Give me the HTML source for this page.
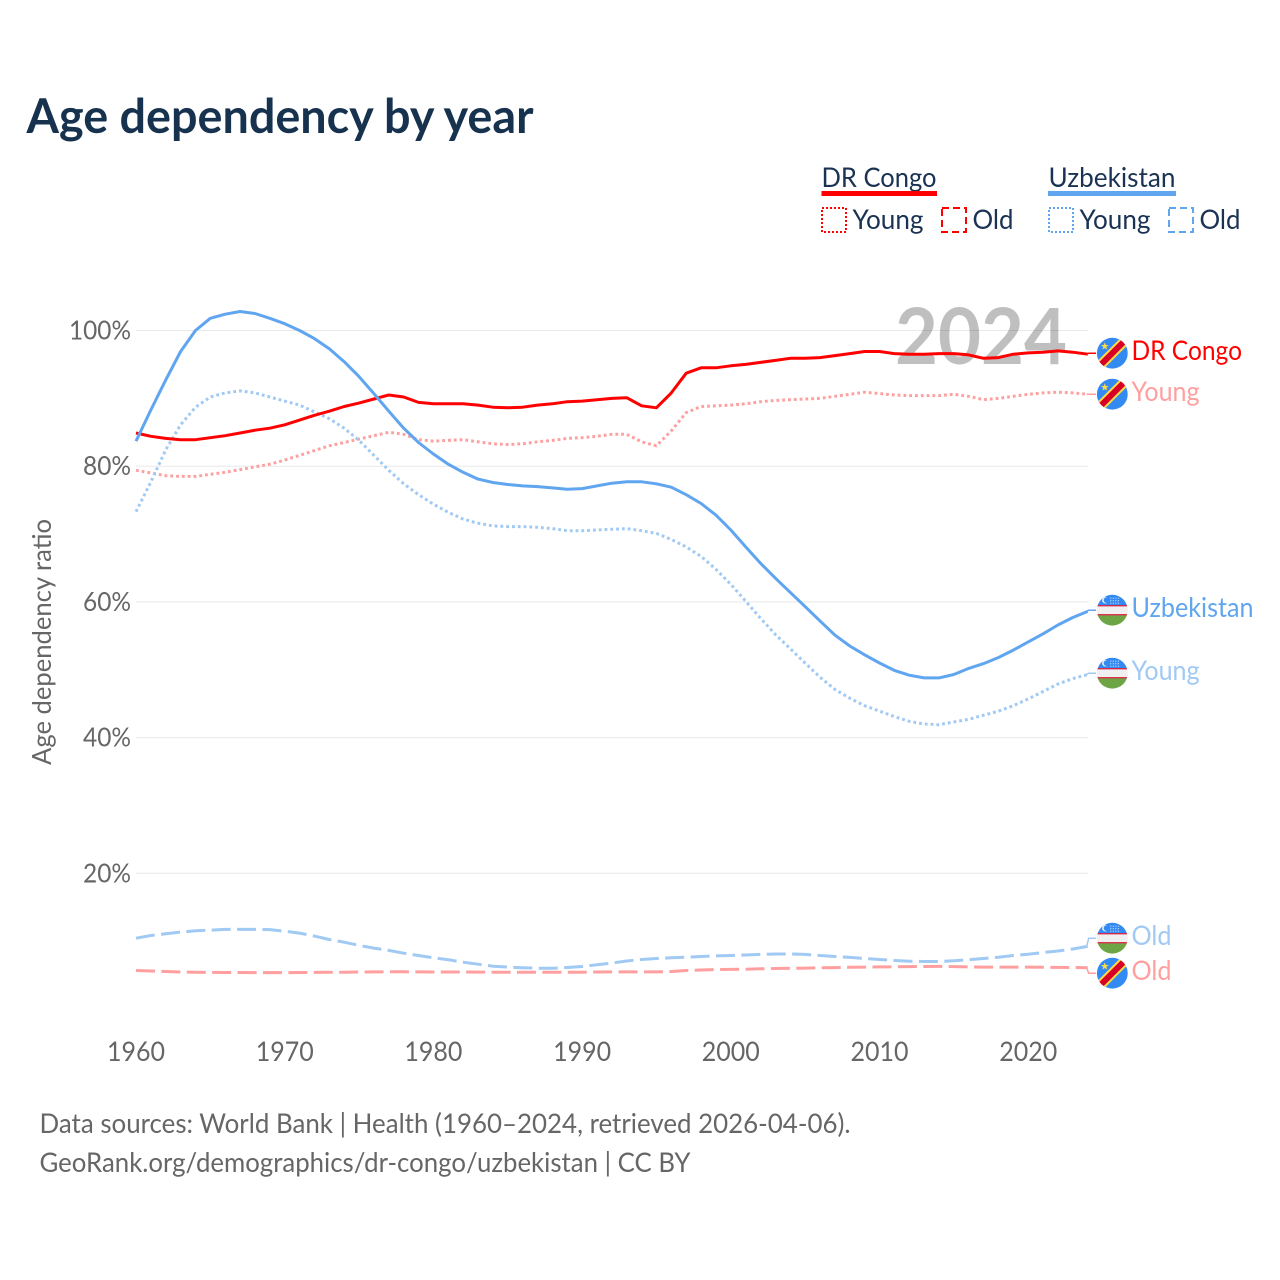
<!DOCTYPE html>
<html lang="en">
<head>
<meta charset="utf-8">
<title>Age dependency by year</title>
<style>
html,body{margin:0;padding:0;background:#fff;width:1280px;height:1280px;overflow:hidden}
svg{display:block}
text{font-family:"Lato","Carlito","Liberation Sans",sans-serif}
</style>
</head>
<body>
<svg id="chart" xmlns="http://www.w3.org/2000/svg" width="1280" height="1280" viewBox="0 0 1280 1280">
  <rect x="0" y="0" width="1280" height="1280" fill="#ffffff"/>
  <text x="26.5" y="133" font-size="48" font-weight="700" fill="#17324f" textLength="507" lengthAdjust="spacingAndGlyphs">Age dependency by year</text>

  <g>
    <g>
      <text x="821.5" y="187" font-size="27.5" fill="#1a3353" textLength="115" lengthAdjust="spacingAndGlyphs">DR Congo</text>
      <rect x="821.5" y="191" width="115.5" height="5" fill="#ff0000"/>
      <rect x="822" y="208" width="24" height="24" fill="none" stroke="#ff0000" stroke-width="2" stroke-dasharray="2 2"/>
      <text x="852.5" y="229" font-size="27.5" fill="#1a3353" textLength="71" lengthAdjust="spacingAndGlyphs">Young</text>
      <rect x="942" y="208" width="24" height="24" fill="none" stroke="#ff0000" stroke-width="2" stroke-dasharray="7 4"/>
      <text x="972.5" y="229" font-size="27.5" fill="#1a3353" textLength="41" lengthAdjust="spacingAndGlyphs">Old</text>
    </g>
    <g>
      <text x="1048.5" y="187" font-size="27.5" fill="#1a3353" textLength="127" lengthAdjust="spacingAndGlyphs">Uzbekistan</text>
      <rect x="1048" y="191" width="128" height="5" fill="#60a5f0"/>
      <rect x="1049" y="208" width="24" height="24" fill="none" stroke="#60a5f0" stroke-width="2" stroke-dasharray="2 2"/>
      <text x="1079.5" y="229" font-size="27.5" fill="#1a3353" textLength="71" lengthAdjust="spacingAndGlyphs">Young</text>
      <rect x="1169" y="208" width="24" height="24" fill="none" stroke="#60a5f0" stroke-width="2" stroke-dasharray="7 4"/>
      <text x="1199.5" y="229" font-size="27.5" fill="#1a3353" textLength="41" lengthAdjust="spacingAndGlyphs">Old</text>
    </g>
  </g>

  <text transform="translate(51,642) rotate(-90)" text-anchor="middle" font-size="26.5" fill="#666666" textLength="246" lengthAdjust="spacingAndGlyphs">Age dependency ratio</text>
  <g id="grid"></g>
  <g id="yticks"></g>
  <g id="xticks"></g>
  <text x="895" y="364" font-size="78" font-weight="700" fill="#000000" fill-opacity="0.25" textLength="172" lengthAdjust="spacingAndGlyphs">2024</text>
  <g id="series"></g>
  <g id="ends"></g>

  <text x="39.5" y="1133" font-size="27.5" fill="#666666" textLength="811" lengthAdjust="spacingAndGlyphs">Data sources: World Bank | Health (1960–2024, retrieved 2026-04-06).</text>
  <text x="39.5" y="1172" font-size="27.5" fill="#666666" textLength="651" lengthAdjust="spacingAndGlyphs">GeoRank.org/demographics/dr-congo/uzbekistan | CC BY</text>
</svg>
<script>
var startYear = 1960;
var yTickValues = [20, 40, 60, 80, 100];
var xTickValues = [1960, 1970, 1980, 1990, 2000, 2010, 2020];

var drCongoTotal = [
  84.9,84.4,84.1,83.9,83.9,84.2,84.5,84.9,85.3,85.6,
  86.1,86.8,87.5,88.1,88.8,89.3,89.9,90.5,90.2,89.4,
  89.2,89.2,89.2,89.0,88.7,88.6,88.7,89.0,89.2,89.5,
  89.6,89.8,90.0,90.1,88.9,88.6,90.8,93.7,94.5,94.5,
  94.8,95.0,95.3,95.6,95.9,95.9,96.0,96.3,96.6,96.9,
  96.9,96.6,96.5,96.5,96.6,96.6,96.4,95.9,96.0,96.5,
  96.7,96.8,97.0,96.8,96.5
];
var drCongoYoung = [
  79.4,79.0,78.6,78.5,78.5,78.8,79.1,79.5,79.9,80.3,
  80.9,81.6,82.3,83.0,83.5,84.0,84.5,85.0,84.7,83.9,
  83.7,83.8,83.9,83.6,83.3,83.2,83.3,83.6,83.8,84.1,
  84.2,84.4,84.7,84.7,83.6,83.0,85.2,87.9,88.8,88.9,
  89.0,89.2,89.5,89.7,89.8,89.9,90.0,90.3,90.6,90.9,
  90.7,90.5,90.4,90.4,90.4,90.6,90.3,89.8,90.0,90.3,
  90.6,90.8,90.9,90.8,90.6
];
var drCongoOld = [
  5.68,5.6,5.53,5.46,5.43,5.4,5.38,5.38,5.37,5.37,
  5.37,5.38,5.39,5.41,5.43,5.45,5.47,5.48,5.48,5.47,
  5.46,5.46,5.45,5.44,5.43,5.41,5.41,5.41,5.41,5.42,
  5.43,5.45,5.47,5.47,5.47,5.47,5.53,5.68,5.75,5.8,
  5.83,5.87,5.92,5.97,6.0,6.03,6.07,6.1,6.14,6.17,
  6.2,6.22,6.25,6.27,6.28,6.25,6.2,6.18,6.17,6.17,
  6.17,6.15,6.13,6.12,6.08
];
var uzbekistanTotal = [
  83.7,88.3,92.7,96.9,100.0,101.8,102.4,102.8,102.5,101.8,
  101.0,100.0,98.8,97.3,95.4,93.2,90.7,88.1,85.6,83.5,
  81.8,80.3,79.1,78.1,77.6,77.3,77.1,77.0,76.8,76.6,
  76.7,77.1,77.5,77.7,77.7,77.4,76.9,75.8,74.5,72.8,
  70.6,68.1,65.7,63.5,61.4,59.3,57.2,55.1,53.5,52.2,
  51.0,49.9,49.2,48.8,48.8,49.3,50.2,50.9,51.8,52.9,
  54.1,55.3,56.6,57.7,58.6
];
var uzbekistanYoung = [
  73.3,77.7,82.4,86.1,88.7,90.2,90.8,91.1,90.8,90.2,
  89.6,89.0,88.0,87.0,85.6,83.8,81.6,79.4,77.4,75.8,
  74.4,73.2,72.2,71.6,71.2,71.1,71.1,71.0,70.8,70.5,
  70.5,70.6,70.7,70.8,70.5,70.1,69.2,68.1,66.7,64.8,
  62.6,60.1,57.6,55.2,53.1,51.0,48.9,47.1,45.8,44.7,
  43.9,43.1,42.4,42.0,41.9,42.3,42.7,43.3,43.9,44.7,
  45.7,46.8,47.9,48.7,49.3
];
var uzbekistanOld = [
  10.44,10.84,11.09,11.33,11.53,11.62,11.73,11.73,11.73,11.7,
  11.47,11.18,10.74,10.25,9.85,9.37,8.97,8.63,8.23,7.89,
  7.55,7.26,6.9,6.61,6.31,6.17,6.08,6.02,6.02,6.12,
  6.27,6.52,6.76,7.08,7.3,7.45,7.55,7.64,7.74,7.82,
  7.89,7.96,8.04,8.11,8.11,8.04,7.89,7.74,7.6,7.45,
  7.3,7.15,7.05,7.0,7.0,7.11,7.26,7.45,7.64,7.89,
  8.08,8.33,8.55,8.85,9.22
];

var NS = 'http://www.w3.org/2000/svg';
function xScale(year) { return 136 + (year - 1960) * 14.87; }
function yScale(v) { return 330.5 + (100 - v) * 6.785; }
function mk(tag, attrs, parent) {
  var el = document.createElementNS(NS, tag);
  for (var k in attrs) el.setAttribute(k, attrs[k]);
  parent.appendChild(el);
  return el;
}

var grid = document.getElementById('grid');
var yticks = document.getElementById('yticks');
var xticks = document.getElementById('xticks');
var seriesG = document.getElementById('series');
var endsG = document.getElementById('ends');

yTickValues.forEach(function (v) {
  var line = mk('line', {x1: 136, x2: 1088, y1: yScale(v), y2: yScale(v), stroke: '#e8e8e8', 'stroke-width': 1}, grid);
  
  
  var t = mk('text', {x: 131, y: yScale(v) + 9, 'text-anchor': 'end', 'font-size': 26.5, fill: '#666666',
    textLength: v === 100 ? 62 : 48, lengthAdjust: 'spacingAndGlyphs'}, yticks);
  t.textContent = v + '%';
  
  
});

xTickValues.forEach(function (yr) {
  var t = mk('text', {x: xScale(yr), y: 1061, 'text-anchor': 'middle', 'font-size': 27, fill: '#666666',
    textLength: 58, lengthAdjust: 'spacingAndGlyphs'}, xticks);
  t.textContent = yr;
  
  
});

var RED = '#ff0000', BLUE = '#60a5f0', LRED = '#ff9f9f', LBLUE = '#a0c9f4';
var DOT = '2.8 3', DASH = '19 6.4';

function drawLine(values, color, dash, width, name) {
  var pts = values.map(function (v, i) {
    return xScale(startYear + i).toFixed(1) + ',' + yScale(v).toFixed(1);
  }).join(' ');
  var p = mk('polyline', {points: pts, fill: 'none', stroke: color, 'stroke-width': width, 'stroke-linejoin': 'round'}, seriesG);
  if (dash) p.setAttribute('stroke-dasharray', dash);
  
  
}

drawLine(drCongoOld, LRED, DASH, 3, 'line-dr-congo-old');
drawLine(uzbekistanOld, LBLUE, DASH, 3, 'line-uzbekistan-old');
drawLine(drCongoYoung, LRED, DOT, 3, 'line-dr-congo-young');
drawLine(uzbekistanYoung, LBLUE, DOT, 3, 'line-uzbekistan-young');
drawLine(drCongoTotal, RED, null, 3, 'line-dr-congo-total');
drawLine(uzbekistanTotal, BLUE, null, 3, 'line-uzbekistan-total');

var defs = mk('defs', {}, document.getElementById('chart'));
var cp = mk('clipPath', {id: 'flag-clip'}, defs);
mk('circle', {cx: 0, cy: 0, r: 15.4}, cp);

function drawCongo(g) {
  mk('rect', {x: -16, y: -16, width: 32, height: 32, fill: '#338af3'}, g);
  mk('line', {x1: -18, y1: 18, x2: 18, y2: -18, stroke: '#ffda44', 'stroke-width': 10}, g);
  mk('line', {x1: -18, y1: 18, x2: 18, y2: -18, stroke: '#d80027', 'stroke-width': 6}, g);
  mk('polygon', {points: '-7.5,-11 -6.5,-8.2 -3.6,-8.2 -5.9,-6.4 -5.1,-3.6 -7.5,-5.2 -9.9,-3.6 -9.1,-6.4 -11.4,-8.2 -8.5,-8.2', fill: '#ffda44'}, g);
}
function drawUzbek(g) {
  mk('rect', {x: -16, y: -16, width: 32, height: 11, fill: '#338af3'}, g);
  mk('rect', {x: -16, y: -5, width: 32, height: 1.2, fill: '#d80027'}, g);
  mk('rect', {x: -16, y: -3.8, width: 32, height: 7.8, fill: '#f0f0f0'}, g);
  mk('rect', {x: -16, y: 4, width: 32, height: 1.2, fill: '#d80027'}, g);
  mk('rect', {x: -16, y: 5.2, width: 32, height: 11, fill: '#6da544'}, g);
  mk('circle', {cx: -7, cy: -10, r: 3.2, fill: '#f0f0f0'}, g);
  mk('circle', {cx: -5.8, cy: -10, r: 2.8, fill: '#338af3'}, g);
  [-2, 0.5, 3, 5.5].forEach(function (dx) {
    [-12.5, -10, -7.5].forEach(function (dy) {
      mk('rect', {x: dx, y: dy, width: 1, height: 1, fill: '#f0f0f0'}, g);
    });
  });
}

function drawEnd(values, labelY, color, lineColor, label, width, flag, name) {
  var last = values[values.length - 1];
  var ex = xScale(startYear + values.length - 1) - 1;
  var cy = labelY - 6.8;
  var lead = mk('polyline', {points: ex + ',' + yScale(last).toFixed(1) + ' ' + (ex + 2) + ',' + cy + ' 1096,' + cy,
    fill: 'none', stroke: lineColor, 'stroke-width': 1.5}, endsG);
  
  
  var g = mk('g', {transform: 'translate(1112.3,' + cy + ')', 'clip-path': 'url(#flag-clip)'}, endsG);
  
  
  flag(g);
  var t = mk('text', {x: 1131.5, y: labelY, 'font-size': 27.5, fill: color, textLength: width, lengthAdjust: 'spacingAndGlyphs'}, endsG);
  t.textContent = label;
  
  
}

drawEnd(drCongoTotal, 360, RED, RED, 'DR Congo', 110.5, drawCongo, 'end-dr-congo');
drawEnd(drCongoYoung, 401, LRED, LRED, 'Young', 68, drawCongo, 'end-dr-congo-young');
drawEnd(uzbekistanTotal, 617, BLUE, BLUE, 'Uzbekistan', 122, drawUzbek, 'end-uzbekistan');
drawEnd(uzbekistanYoung, 680, LBLUE, LBLUE, 'Young', 68, drawUzbek, 'end-uzbekistan-young');
drawEnd(uzbekistanOld, 945, LBLUE, LBLUE, 'Old', 40, drawUzbek, 'end-uzbekistan-old');
drawEnd(drCongoOld, 980, LRED, LRED, 'Old', 40, drawCongo, 'end-dr-congo-old');
</script>
</body>
</html>
